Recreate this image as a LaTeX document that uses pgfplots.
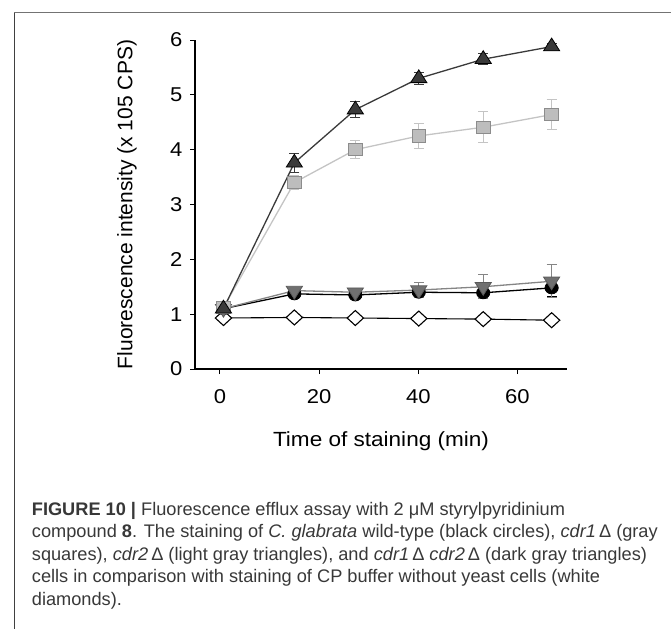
\documentclass[border=0pt]{standalone}
\usepackage{fontspec}
\setmainfont{Liberation Sans}
\newfontfamily\axfont[FakeStretch=1.1]{Liberation Sans}
\newfontfamily\capfont{Liberation Sans}
\usepackage{pgfplots}
\pgfplotsset{compat=1.18}
\definecolor{dtri}{HTML}{3A3A3A}
\definecolor{sqfill}{HTML}{BDBDBD}
\definecolor{sqedge}{HTML}{8C8C8C}
\definecolor{sqline}{HTML}{C4C4C4}
\definecolor{itri}{HTML}{707070}
\definecolor{itriline}{HTML}{858585}
\definecolor{captxt}{HTML}{383838}
\begin{document}
\begin{tikzpicture}[x=1pt,y=1pt]
\path[use as bounding box] (0,0) rectangle (671,-629);
\draw[line width=1.4pt,color=black!55] (14.3,-12.7) -- (671,-12.7);
\draw[line width=1.4pt,color=black!75] (14.3,-12.7) -- (14.3,-629);
\begin{axis}[
  at={(195pt,-369pt)}, anchor=south west,
  scale only axis, width=372pt, height=329pt,
  xmin=-5.04, xmax=70, ymin=0, ymax=6,
  axis x line*=bottom, axis y line*=left,
  axis line style={line width=1.1pt, black},
  xtick={0,20,40,60}, ytick={0,1,2,3,4,5,6},
  tick align=outside, major tick length=5pt,
  tick style={line width=1pt, black},
  /pgf/number format/assume math mode=true,
  tick label style={font=\fontsize{20}{24}\axfont},
  xticklabel style={yshift=-12pt},
  yticklabel style={xshift=-4pt},
  xlabel={Time of staining (min)},
  xlabel style={font=\fontsize{20.5}{24}\axfont, at={(ticklabel cs:0.5)}, anchor=center, yshift=-34pt},
  ylabel={Fluorescence intensity (x 105 CPS)},
  ylabel style={font=\fontsize{21}{24}\selectfont, at={(ticklabel cs:0.5)}, anchor=center, yshift=40pt},
  clip=false,
  error bars/y dir=both, error bars/y explicit,
]
% white diamonds (buffer)
\addplot[black, line width=1.1pt, mark=diamond*, mark size=7.5pt,
  mark options={fill=white, draw=black, line width=1.1pt, xscale=1.45},
  error bars/error bar style={black, line width=0.9pt},
  error bars/error mark options={rotate=90, mark size=5pt, black, line width=0.9pt}]
  coordinates {(0.7,0.93) +- (0,0.02) (15,0.94) +- (0,0.02) (27.3,0.93) +- (0,0.02) (40.1,0.92) +- (0,0.02) (53.1,0.91) +- (0,0.02) (66.9,0.89) +- (0,0.02)};
% black circles (wild-type)
\addplot[black, line width=1.3pt, mark=*, mark size=6pt,
  mark options={fill=black, draw=black, line width=0.8pt, xscale=1.1},
  error bars/error bar style={black, line width=1pt},
  error bars/error mark options={rotate=90, mark size=5pt, black, line width=1pt}]
  coordinates {(0.7,1.10) +- (0,0.03) (15,1.37) +- (0,0.04) (27.3,1.35) +- (0,0.05) (40.1,1.40) +- (0,0.1) (53.1,1.39) +- (0,0.1) (66.9,1.48) +- (0,0.16)};
% inverted triangles (cdr2)
\addplot[itriline, line width=1.3pt, mark=triangle*, mark size=8.5pt,
  mark options={fill=itri, draw=black!65, line width=0.8pt, rotate=180, xscale=1.1},
  error bars/error bar style={itriline, line width=1pt},
  error bars/error mark options={rotate=90, mark size=5pt, itriline, line width=1pt}]
  coordinates {(0.7,1.10) +- (0,0.05) (15,1.43) +- (0,0.04) (27.3,1.40) +- (0,0.05) (40.1,1.44) +- (0,0.14) (53.1,1.50) +- (0,0.22) (66.9,1.60) +- (0,0.3)};
% gray squares (cdr1)
\addplot[sqline, line width=1.3pt, mark=square*, mark size=6.2pt,
  mark options={fill=sqfill, draw=sqedge, line width=0.9pt, xscale=1.1},
  error bars/error bar style={sqline, line width=1pt},
  error bars/error mark options={rotate=90, mark size=5pt, sqline, line width=1pt}]
  coordinates {(0.7,1.12) +- (0,0.05) (15,3.40) +- (0,0.12) (27.3,4.00) +- (0,0.16) (40.1,4.25) +- (0,0.23) (53.1,4.41) +- (0,0.28) (66.9,4.64) +- (0,0.27)};
% dark triangles (cdr1 cdr2)
\addplot[dtri, line width=1.3pt, mark=triangle*, mark size=8.5pt,
  mark options={fill=dtri, draw=black, line width=0.8pt, xscale=1.1},
  error bars/error bar style={dtri, line width=1pt},
  error bars/error mark options={rotate=90, mark size=5pt, dtri, line width=1pt}]
  coordinates {(0.7,1.10) +- (0,0.05) (15,3.76) +- (0,0.17) (27.3,4.73) +- (0,0.15) (40.1,5.30) +- (0,0.11) (53.1,5.65) +- (0,0.1) (66.9,5.88) +- (0,0.05)};
\end{axis}
\node[anchor=north west, inner sep=0pt, align=left, text=captxt,
  font=\fontsize{18.2}{22.5}\capfont] at (31.7,-502) {%
\textbf{FIGURE 10 |} Fluorescence efflux assay with 2 μM styrylpyridinium\\
compound \textbf{8}. The staining of \textit{C. glabrata} wild-type (black circles), \textit{cdr1}\,Δ (gray\\
squares), \textit{cdr2}\,Δ (light gray triangles), and \textit{cdr1}\,Δ \textit{cdr2}\,Δ (dark gray triangles)\\
cells in comparison with staining of CP buffer without yeast cells (white\\
diamonds).};
\end{tikzpicture}
\end{document}
